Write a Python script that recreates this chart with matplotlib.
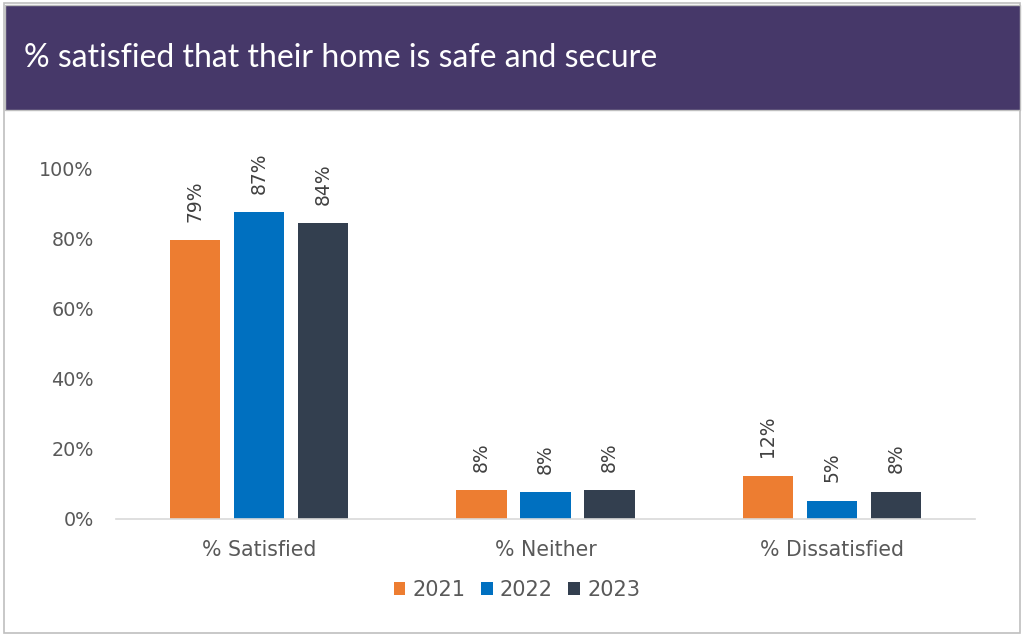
import numpy as np
import matplotlib.pyplot as plt
from matplotlib.patches import Rectangle

CATEGORIES = ["% Satisfied", "% Neither", "% Dissatisfied"]
YEARS = ["2021", "2022", "2023"]
VALUES_2021 = [79.4, 8.2, 12.3]
VALUES_2022 = [87.4, 7.6, 5.1]
VALUES_2023 = [84.2, 8.2, 7.7]
COLOURS = ["#ED7D31", "#0070C0", "#333F4F"]
TITLE = "% satisfied that their home is safe and secure"

TEXT_GREY = "#595959"

fig = plt.figure(figsize=(10.25, 6.37), dpi=100)

# outer frame and title banner
fig.patches.append(Rectangle((4 / 1025, 4 / 637), 1016 / 1025, 630 / 637,
                             transform=fig.transFigure, facecolor="none",
                             edgecolor="#BFBFBF", linewidth=1.2, zorder=-1))
fig.patches.append(Rectangle((5 / 1025, 1 - 110 / 637), 1015 / 1025, 105 / 637,
                             transform=fig.transFigure, facecolor="#463869",
                             edgecolor="#BFBFBF", linewidth=1, zorder=-1))
fig.text(24 / 1025, 1 - 58 / 637, TITLE, color="white", fontsize=23,
         family="Lato", va="center", ha="left")

ax = fig.add_axes([116 / 1025, 1 - 519 / 637, 859 / 1025, 351 / 637])
ax.set_facecolor("none")

x = np.arange(len(CATEGORIES))
width = 0.175
step = 0.2234
series = [VALUES_2021, VALUES_2022, VALUES_2023]
for i, (vals, year, col) in enumerate(zip(series, YEARS, COLOURS)):
    pos = x + (i - 1) * step
    bars = ax.bar(pos, vals, width, color=col, label=year, zorder=2)
    for b, v in zip(bars, vals):
        ax.text(b.get_x() + b.get_width() / 2, v + 5.3, f"{round(v)}%",
                rotation=90, ha="center", va="bottom", fontsize=13.5,
                color="#404040")

ax.set_xlim(-0.5, 2.5)
ax.set_ylim(0, 100)
ax.set_yticks(np.arange(0, 101, 20))
ax.set_yticklabels([f"{t}%" for t in range(0, 101, 20)])
ax.set_xticks(x)
ax.set_xticklabels(CATEGORIES)
ax.tick_params(axis="both", length=0, labelcolor=TEXT_GREY)
ax.tick_params(axis="y", pad=16, labelsize=13.8)
ax.tick_params(axis="x", pad=15, labelsize=14.8)
for side in ["top", "right", "left"]:
    ax.spines[side].set_visible(False)
ax.spines["bottom"].set_color("#D9D9D9")
ax.spines["bottom"].set_linewidth(1.2)

leg = fig.legend(loc="center", bbox_to_anchor=(517 / 1025, 1 - 590 / 637),
                 ncol=3, frameon=False, fontsize=15, handlelength=0.55,
                 handleheight=0.55, handletextpad=0.35, columnspacing=0.75)
for t in leg.get_texts():
    t.set_color(TEXT_GREY)

fig.savefig("out.png", dpi=100)
